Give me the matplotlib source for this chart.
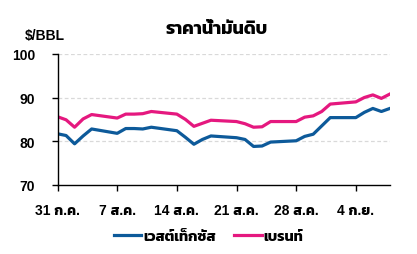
import matplotlib
matplotlib.use("Agg")
import matplotlib.pyplot as plt
from matplotlib import font_manager
from matplotlib.ft2font import FT2Font

# trading days counted from 31 Jul (Mon)
days = [0, 1, 2, 3, 4, 7, 8, 9, 10, 11, 14, 15, 16, 17, 18,
        21, 22, 23, 24, 25, 28, 29, 30, 31, 32, 35, 36, 37, 38, 39]
wti = [81.7, 81.3, 79.4, 81.2, 82.8, 81.8, 82.9, 82.9, 82.8, 83.2,
       82.4, 80.9, 79.3, 80.4, 81.2, 80.8, 80.4, 78.8, 78.9, 79.8,
       80.1, 81.1, 81.6, 83.5, 85.4, 85.4, 86.6, 87.5, 86.8, 87.5]
brent = [85.6, 84.9, 83.2, 85.1, 86.1, 85.3, 86.2, 86.2, 86.3, 86.8,
         86.2, 85.0, 83.4, 84.1, 84.8, 84.5, 84.0, 83.2, 83.3, 84.5,
         84.5, 85.5, 85.8, 86.8, 88.5, 89.0, 90.0, 90.6, 89.8, 90.8]
tick_days = [0, 7, 14, 21, 28, 35]
tick_labels = ["31 ก.ค.", "7 ส.ค.", "14 ส.ค.", "21 ส.ค.", "28 ส.ค.", "4 ก.ย."]


def wt(w):
    if isinstance(w, str):
        return 700 if "bold" in w or "heavy" in w or "black" in w else 400
    return w


# look for an installed font with Thai glyphs, bold face preferred
thai, best = None, -1
for f in font_manager.fontManager.ttflist:
    try:
        if 0x0E01 not in FT2Font(f.fname).get_charmap():
            continue
    except Exception:
        continue
    score = wt(f.weight) + (50 if "sans" in f.name.lower() else 0)
    if score > best:
        thai, best = f.name, score
fams = ["Liberation Sans", thai] if thai else ["Liberation Sans"]
plt.rcParams["font.family"] = fams

fig = plt.figure(figsize=(4.17, 2.55), dpi=100)
ax = fig.add_axes([0.138, 0.271, 0.797, 0.514])

ax.plot(days, wti, color="#0d5a9a", lw=2.3, label="เวสต์เท็กซัส")
ax.plot(days, brent, color="#e5187f", lw=2.3, label="เบรนท์")

ax.set_xlim(0, 39)
ax.set_ylim(70, 100)
ax.set_yticks([70, 80, 90, 100])
ax.set_xticks(tick_days)
ax.set_xticklabels(tick_labels)
for y in [80, 90, 100]:
    ax.axhline(y, color="#d9d9d9", lw=0.9, ls=(0, (3, 2)), zorder=0)
for s in ["top", "right"]:
    ax.spines[s].set_visible(False)
ax.spines["left"].set_linewidth(1.0)
ax.spines["bottom"].set_linewidth(1.0)
ax.tick_params(axis="both", length=4, width=1.0, labelsize=10)
ax.tick_params(axis="x", pad=9)
ax.tick_params(axis="y", pad=12)
for t in ax.get_xticklabels() + ax.get_yticklabels():
    t.set_fontweight("bold")

fig.text(0.52, 0.885, "ราคาน้ำมันดิบ", ha="center", va="center",
         fontsize=13, fontweight="bold")
fig.text(0.06, 0.86, "$/BBL", ha="left", va="center",
         fontsize=10, fontweight="bold")

leg = fig.legend(loc="center", bbox_to_anchor=(0.5, 0.07), ncol=2, frameon=False,
                 handlelength=1.9, handletextpad=0.1, columnspacing=1.3,
                 prop={"size": 10.5, "weight": "bold"})

fig.savefig("out.png", dpi=100)
